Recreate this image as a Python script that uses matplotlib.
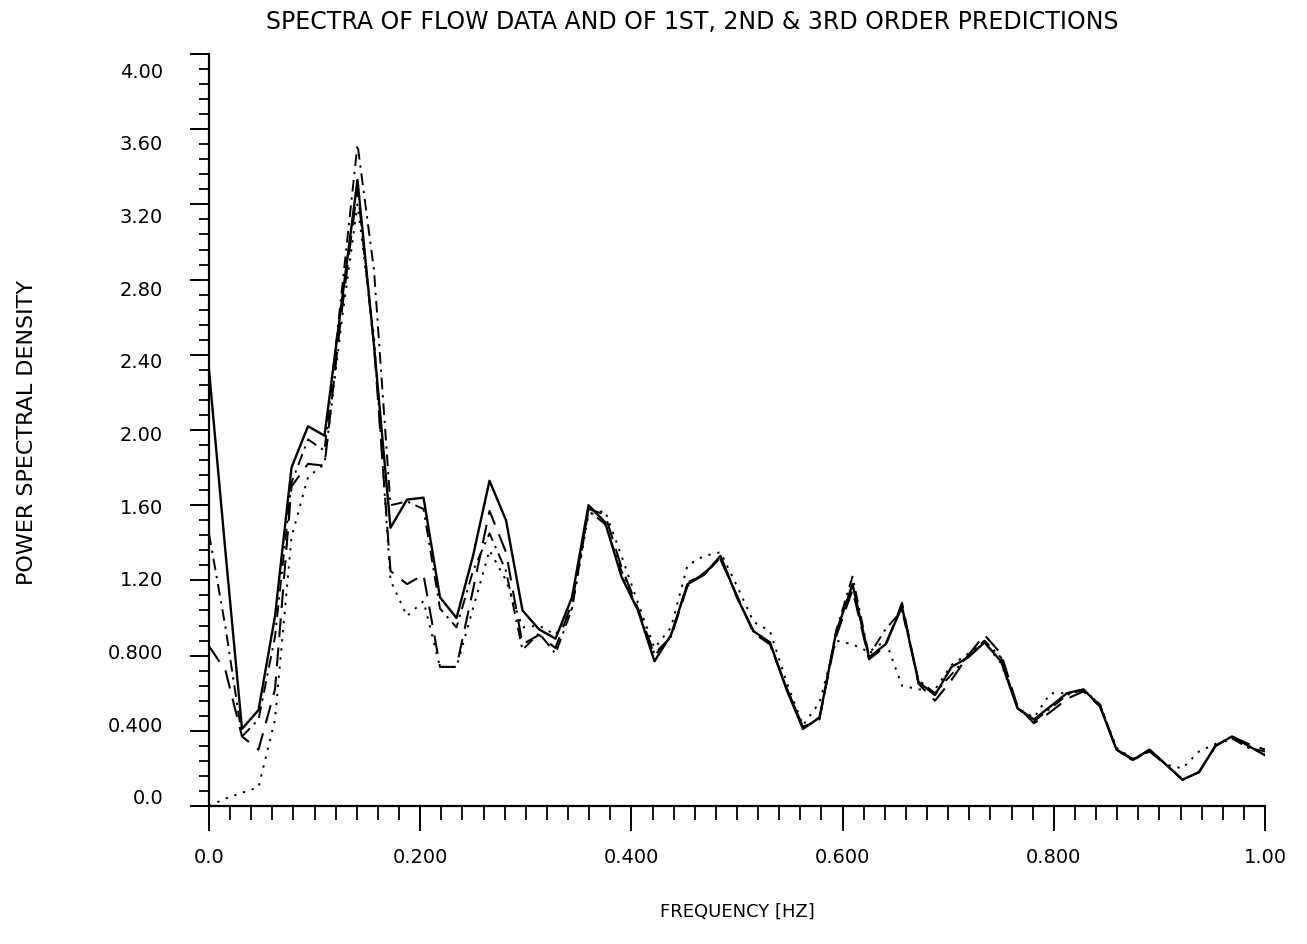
import numpy as np
import matplotlib
matplotlib.use("Agg")
import matplotlib.pyplot as plt
import matplotlib.transforms as mtransforms
from matplotlib.ticker import MultipleLocator, FixedLocator

# frequency bins, 1/64 Hz apart
freq = np.arange(65) / 64.0

# measured flow spectrum (solid)
flow_data = [2.32, 1.35, 0.41, 0.51, 1.01, 1.80, 2.02, 1.97, 2.65, 3.33,
             2.45, 1.48, 1.63, 1.64, 1.11, 1.00, 1.33, 1.73, 1.52, 1.04,
             0.94, 0.89, 1.11, 1.60, 1.51, 1.22, 1.04, 0.77, 0.91, 1.18,
             1.23, 1.33, 1.11, 0.93, 0.87, 0.62, 0.41, 0.47, 0.92, 1.18,
             0.79, 0.86, 1.06, 0.66, 0.59, 0.74, 0.79, 0.87, 0.77, 0.52,
             0.46, 0.53, 0.60, 0.62, 0.53, 0.30, 0.245, 0.30, 0.22, 0.14,
             0.18, 0.32, 0.37, 0.32, 0.27]

# prediction spectra
pred_dashed = [0.85, 0.72, 0.37, 0.30, 0.62, 1.70, 1.82, 1.81, 2.60, 3.29,
               2.45, 1.25, 1.18, 1.23, 0.74, 0.74, 1.15, 1.57, 1.35, 0.86,
               0.91, 0.84, 1.08, 1.58, 1.55, 1.27, 1.05, 0.80, 0.90, 1.17,
               1.24, 1.31, 1.12, 0.92, 0.86, 0.63, 0.42, 0.47, 0.90, 1.15,
               0.78, 0.85, 1.08, 0.65, 0.56, 0.67, 0.80, 0.91, 0.81, 0.53,
               0.44, 0.50, 0.57, 0.61, 0.53, 0.30, 0.25, 0.29, 0.22, 0.14,
               0.18, 0.32, 0.37, 0.33, 0.30]

pred_dashdot = [1.45, 0.95, 0.37, 0.46, 0.90, 1.72, 1.95, 1.89, 2.70, 3.52,
                2.85, 1.60, 1.62, 1.58, 1.05, 0.95, 1.25, 1.45, 1.25, 0.83,
                0.92, 0.81, 1.05, 1.57, 1.50, 1.25, 1.04, 0.81, 0.90, 1.19,
                1.23, 1.32, 1.11, 0.93, 0.86, 0.63, 0.42, 0.46, 0.93, 1.22,
                0.80, 0.94, 1.04, 0.67, 0.60, 0.70, 0.80, 0.88, 0.79, 0.52,
                0.45, 0.52, 0.59, 0.62, 0.54, 0.30, 0.24, 0.30, 0.22, 0.14,
                0.18, 0.32, 0.36, 0.31, 0.29]

pred_dotted = [0.00, 0.04, 0.07, 0.10, 0.46, 1.43, 1.75, 1.82, 2.55, 3.20,
               2.50, 1.20, 1.01, 1.09, 0.74, 0.74, 1.05, 1.36, 1.20, 0.95,
               0.96, 0.91, 1.05, 1.55, 1.57, 1.33, 1.08, 0.84, 0.95, 1.28,
               1.33, 1.35, 1.17, 0.98, 0.93, 0.66, 0.43, 0.55, 0.88, 0.86,
               0.82, 0.88, 0.64, 0.62, 0.62, 0.75, 0.81, 0.87, 0.76, 0.52,
               0.47, 0.60, 0.60, 0.62, 0.54, 0.31, 0.25, 0.30, 0.22, 0.20,
               0.29, 0.33, 0.36, 0.31, 0.28]

x_ticks = [0.0, 0.2, 0.4, 0.6, 0.8, 1.0]
x_labels = ["0.0", "0.200", "0.400", "0.600", "0.800", "1.00"]
y_ticks = [0.0, 0.4, 0.8, 1.2, 1.6, 2.0, 2.4, 2.8, 3.2, 3.6, 4.0]
y_labels = ["0.0", "0.400", "0.800", "1.20", "1.60", "2.00",
            "2.40", "2.80", "3.20", "3.60", "4.00"]

W, H = 1307, 944
fig = plt.figure(figsize=(W / 100, H / 100), dpi=100)
ax = fig.add_axes([209 / W, (H - 806) / H, (1265 - 209) / W, (806 - 54) / H])

ax.plot(freq, flow_data, color="black", lw=1.7, ls="-")
ax.plot(freq, pred_dashed, color="black", lw=1.5, dashes=(9, 5))
ax.plot(freq, pred_dashdot, color="black", lw=1.4, dashes=(6, 3, 1.2, 3))
ax.plot(freq, pred_dotted, color="black", lw=1.4, dashes=(1.2, 3.5))

ax.set_xlim(0, 1)
ax.set_ylim(0, 4)
for side in ["top", "right"]:
    ax.spines[side].set_visible(False)
for side in ["left", "bottom"]:
    ax.spines[side].set_linewidth(1.6)
    ax.spines[side].set_color("black")

ax.xaxis.set_major_locator(FixedLocator(x_ticks))
ax.set_xticklabels(x_labels)
ax.xaxis.set_minor_locator(MultipleLocator(0.02))
ax.yaxis.set_major_locator(FixedLocator(y_ticks))
ax.set_yticklabels(y_labels)
ax.yaxis.set_minor_locator(MultipleLocator(0.08))

ax.tick_params(axis="x", which="major", direction="out", length=18, width=1.4,
               pad=12, labelsize=14)
ax.tick_params(axis="x", which="minor", direction="out", length=10, width=1.3)
ax.tick_params(axis="y", which="major", direction="out", length=14, width=1.4,
               pad=19, labelsize=14)
ax.tick_params(axis="y", which="minor", direction="out", length=7, width=1.3)

# the old plotter spaced the y labels a little tighter than the ticks
for val, lab in zip(y_ticks, ax.get_yticklabels()):
    shift = (9 - 6.25 * val) / 72.0 * 0.72
    lab.set_transform(lab.get_transform()
                      + mtransforms.ScaledTranslation(0, shift, fig.dpi_scale_trans))

fig.text(692 / W, 1 - 22 / H, "SPECTRA OF FLOW DATA AND OF 1ST, 2ND & 3RD ORDER PREDICTIONS",
         ha="center", va="center", fontsize=17)
fig.text(27 / W, 1 - 432 / H, "POWER SPECTRAL DENSITY", rotation=90,
         ha="center", va="center", fontsize=16)
fig.text(737 / W, 1 - 912 / H, "FREQUENCY [HZ]", ha="center", va="center",
         fontsize=13)

fig.savefig("out.png", dpi=100)
